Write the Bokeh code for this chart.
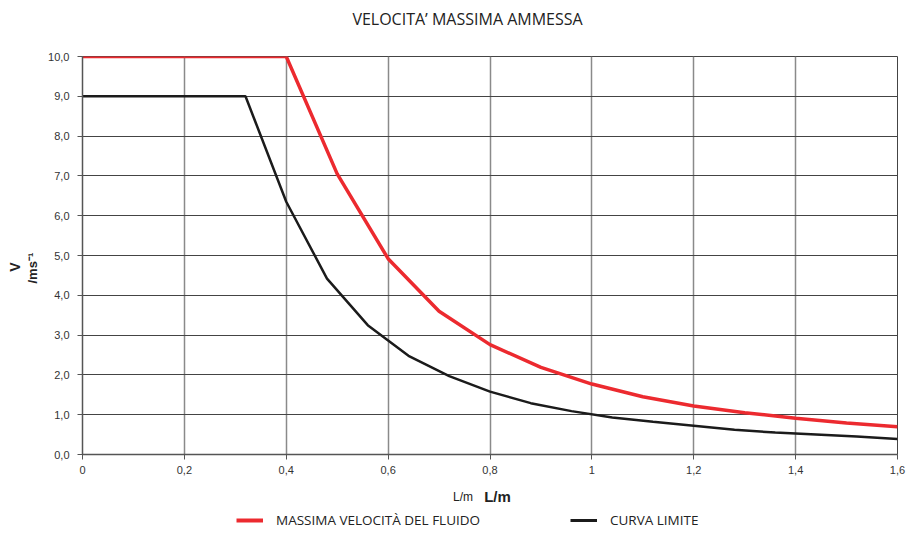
from bokeh.plotting import figure
from bokeh.models import Label, Legend, LegendItem, FixedTicker, Range1d, LinearAxis
from bokeh.layouts import column
from bokeh.embed import file_html
from bokeh.resources import INLINE

# --- data ---
red_x = [0.0, 0.4, 0.5, 0.6, 0.7, 0.8, 0.9, 1.0, 1.1, 1.2, 1.3, 1.4, 1.5, 1.6]
red_y = [10.0, 10.0, 7.05, 4.92, 3.6, 2.76, 2.19, 1.77, 1.45, 1.22, 1.05, 0.91, 0.79, 0.70]
black_x = [0.0, 0.32, 0.40, 0.48, 0.56, 0.64, 0.72, 0.80, 0.88, 0.96, 1.04, 1.12, 1.20, 1.28, 1.36, 1.44, 1.52, 1.60]
black_y = [9.0, 9.0, 6.35, 4.42, 3.25, 2.48, 1.97, 1.58, 1.29, 1.09, 0.93, 0.82, 0.72, 0.62, 0.55, 0.50, 0.45, 0.39]
x_ticks = [0, 0.2, 0.4, 0.6, 0.8, 1.0, 1.2, 1.4, 1.6]
x_tick_labels = ["0", "0,2", "0,4", "0,6", "0,8", "1", "1,2", "1,4", "1,6"]
y_ticks = [0, 1, 2, 3, 4, 5, 6, 7, 8, 9, 10]
y_tick_labels = ["0,0", "1,0", "2,0", "3,0", "4,0", "5,0", "6,0", "7,0", "8,0", "9,0", "10,0"]
title_text = "VELOCITA\u2019 MASSIMA AMMESSA"
y_label_main = "V"
y_label_unit = "/ms\u207b\u00b9"
x_label = "L/m"
series_names = ["MASSIMA VELOCIT\u00c0 DEL FLUIDO", "CURVA LIMITE"]
series_colors = ["#ec2a2f", "#1b1b1b"]
series_widths = [3.5, 2.5]

W = 907
NBSP = "\u00a0"

def strip(height):
    s = figure(width=W, height=height, output_backend="svg", toolbar_location=None,
               x_range=Range1d(0, 1.6), y_range=Range1d(100, 101),
               x_axis_location=None, y_axis_location=None,
               min_border_left=82, min_border_right=10, min_border_top=0, min_border_bottom=0)
    s.outline_line_color = None
    s.xgrid.visible = False
    s.ygrid.visible = False
    return s

def lab(fig, x, y, text, size, bold=False, font="Liberation Sans"):
    fig.add_layout(Label(x=x, y=y, x_units="screen", y_units="screen", text=text,
                         text_font=font, text_font_size=size,
                         text_font_style="bold" if bold else "normal",
                         text_color="#222222", text_align="center", text_baseline="middle"))

# title strip (frame aligned with the main frame)
t = strip(36)
lab(t, 385, 18, title_text, "16px", font="Open Sans")

p = figure(width=W, height=444, output_backend="svg", toolbar_location=None, title=None,
           x_range=Range1d(0, 1.6), y_range=Range1d(0, 10),
           min_border_left=82, min_border_right=10, min_border_top=20, min_border_bottom=26)
p.background_fill_color = "white"
p.border_fill_color = "white"
p.outline_line_color = "#444444"
p.outline_line_width = 1

for ax in (p.xaxis, p.yaxis):
    ax.axis_line_color = "#555555"
    ax.axis_line_width = 1.5
    ax.major_tick_line_color = "#555555"
    ax.major_tick_out = 5
    ax.major_tick_in = 0
    ax.minor_tick_line_color = None
    ax.major_label_text_font = "Liberation Sans"
    ax.major_label_text_font_size = "11px"
    ax.major_label_text_color = "#333333"

p.xaxis.ticker = FixedTicker(ticks=x_ticks)
p.yaxis.ticker = FixedTicker(ticks=y_ticks)
p.xaxis.major_label_overrides = {t_: l for t_, l in zip(x_ticks, x_tick_labels)}
p.yaxis.major_label_overrides = {t_: l for t_, l in zip(y_ticks, y_tick_labels)}
p.xaxis.major_label_standoff = 6
p.yaxis.major_label_standoff = 8

# trailing non-breaking spaces nudge the rotated labels slightly downwards
p.yaxis.axis_label = y_label_unit + NBSP * 7
p.yaxis.axis_label_text_font = "Liberation Sans"
p.yaxis.axis_label_text_font_size = "13px"
p.yaxis.axis_label_text_font_style = "bold"
p.yaxis.axis_label_text_color = "#222222"
p.yaxis.axis_label_standoff = 5

extra = LinearAxis(ticker=FixedTicker(ticks=[]), axis_line_color=None,
                   major_tick_line_color=None, minor_tick_line_color=None,
                   major_tick_out=0, major_tick_in=0, major_label_standoff=0,
                   axis_label=y_label_main + NBSP * 6, axis_label_standoff=0,
                   axis_label_text_font="Liberation Sans", axis_label_text_font_size="14px",
                   axis_label_text_font_style="bold", axis_label_text_color="#222222")
p.add_layout(extra, "left")

p.xgrid.ticker = FixedTicker(ticks=x_ticks)
p.ygrid.ticker = FixedTicker(ticks=y_ticks)
p.xgrid.grid_line_color = "#8a8a8a"
p.xgrid.grid_line_width = 1.5
p.ygrid.grid_line_color = "#444444"
p.ygrid.grid_line_width = 1

p.line(red_x, red_y, line_color=series_colors[0], line_width=series_widths[0])
p.line(black_x, black_y, line_color=series_colors[1], line_width=series_widths[1])

# strip below: x label + legend
q = strip(53)
lab(q, 380.5, 37, x_label, "12px")
lab(q, 415, 37, x_label, "15px", bold=True)

for name, xs, ys, color, lw, xloc in zip(series_names, (red_x, black_x), (red_y, black_y),
                                         series_colors, series_widths, (236 - 82, 570 - 82)):
    r = q.line(xs, ys, line_color=color, line_width=lw + 0.5)
    lg = Legend(items=[LegendItem(label=name, renderers=[r])],
                location=(xloc, 4), orientation="horizontal",
                label_text_font="Open Sans", label_text_font_size="13.5px", label_text_color="#222222",
                glyph_width=27, glyph_height=12, label_height=12, label_standoff=13,
                padding=0, margin=0, border_line_color=None, background_fill_alpha=0)
    q.add_layout(lg, "center")

layout = column(t, p, q, spacing=0)
open("out.html", "w").write(file_html(layout, INLINE))
